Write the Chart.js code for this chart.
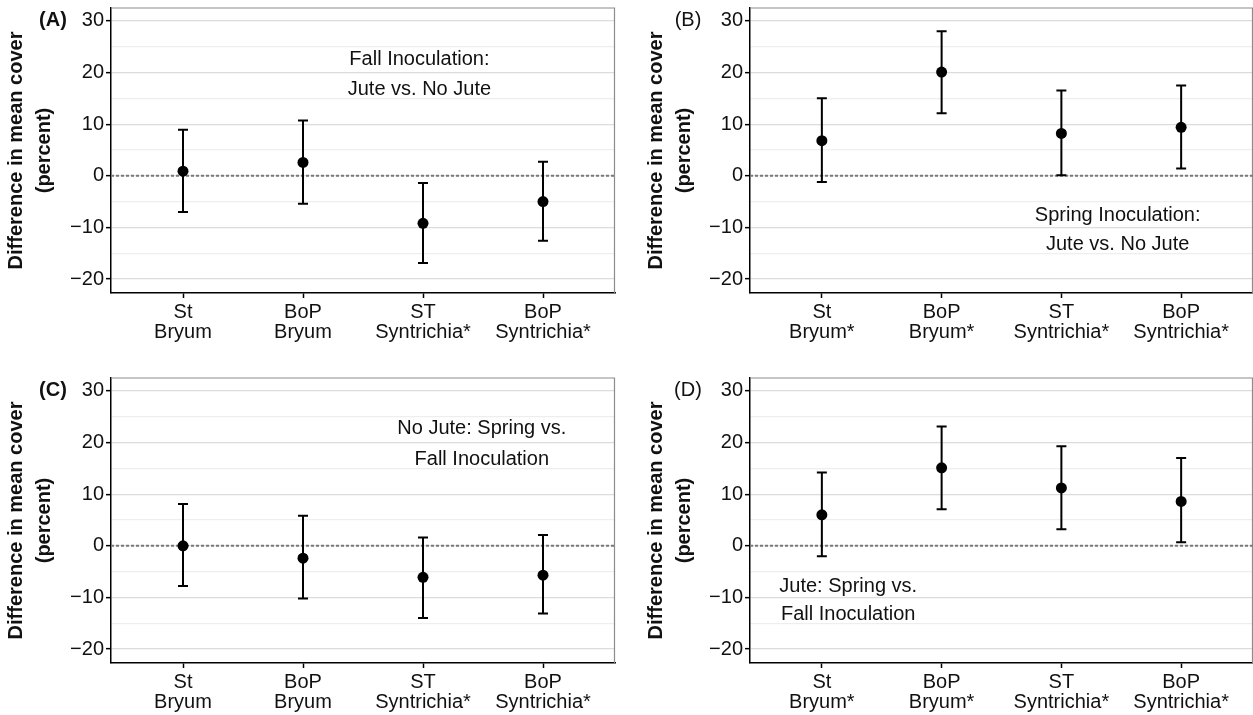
<!DOCTYPE html>
<html>
<head>
<meta charset="utf-8">
<script src="https://cdn.jsdelivr.net/npm/chart.js@4/dist/chart.umd.min.js"></script>
<style>
html, body { margin: 0; padding: 0; background: #fff; }
#wrap { position: relative; width: 1253px; height: 715px; overflow: hidden; }
.panel { position: absolute; }
</style>
</head>
<body>
<div id="wrap">
  <div class="panel" style="left:0;top:0;width:640px;height:357px"><canvas id="chartA"></canvas></div>
  <div class="panel" style="left:640px;top:0;width:613px;height:357px"><canvas id="chartB"></canvas></div>
  <div class="panel" style="left:0;top:357px;width:640px;height:358px"><canvas id="chartC"></canvas></div>
  <div class="panel" style="left:640px;top:357px;width:613px;height:358px"><canvas id="chartD"></canvas></div>
</div>
<script>
// tick values on the y axis (labels only on multiples of 10)
var yTicks = [-20, -15, -10, -5, 0, 5, 10, 15, 20, 25, 30];

// categories
var labelsPlain = [['St', 'Bryum'], ['BoP', 'Bryum'], ['ST', 'Syntrichia*'], ['BoP', 'Syntrichia*']];
var labelsStar = [['St', 'Bryum*'], ['BoP', 'Bryum*'], ['ST', 'Syntrichia*'], ['BoP', 'Syntrichia*']];

// (A) Fall inoculation: jute vs. no jute
var meanA = [0.9, 2.6, -9.2, -5.0];
var lowA = [-7.0, -5.4, -16.9, -12.6];
var highA = [8.9, 10.7, -1.4, 2.7];

// (B) Spring inoculation: jute vs. no jute
var meanB = [6.8, 20.1, 8.2, 9.4];
var lowB = [-1.2, 12.1, 0.1, 1.4];
var highB = [15.0, 28.0, 16.5, 17.5];

// (C) No jute: spring vs. fall inoculation
var meanC = [0.0, -2.4, -6.1, -5.7];
var lowC = [-7.8, -10.2, -14.0, -13.1];
var highC = [8.1, 5.8, 1.6, 2.1];

// (D) Jute: spring vs. fall inoculation
var meanD = [6.0, 15.1, 11.2, 8.6];
var lowD = [-2.0, 7.1, 3.2, 0.7];
var highD = [14.2, 23.1, 19.3, 17.0];

var FONT = '"Liberation Sans", Arial, Helvetica, sans-serif';
Chart.defaults.font.family = FONT;
Chart.defaults.color = '#111';

var panelPlugin = {
  id: 'panelPlugin',
  beforeDatasetsDraw: function (chart) {
    var a = chart.chartArea, ctx = chart.ctx;
    ctx.save();
    ctx.strokeStyle = '#8c8c8c';
    ctx.lineWidth = 1.2;
    ctx.beginPath();
    ctx.moveTo(a.left, a.top);
    ctx.lineTo(a.right - 0.5, a.top);
    ctx.lineTo(a.right - 0.5, a.bottom);
    ctx.stroke();
    ctx.restore();
  },
  afterDatasetsDraw: function (chart) {
    var o = chart.options.plugins.panelPlugin;
    var xs = chart.scales.x, ys = chart.scales.y, ctx = chart.ctx;
    ctx.save();
    ctx.strokeStyle = '#000';
    ctx.lineWidth = 2;
    for (var i = 0; i < o.low.length; i++) {
      var x = xs.getPixelForValue(i);
      var y1 = ys.getPixelForValue(o.low[i]);
      var y2 = ys.getPixelForValue(o.high[i]);
      ctx.beginPath();
      ctx.moveTo(x, y1); ctx.lineTo(x, y2);
      ctx.moveTo(x - 5, y1); ctx.lineTo(x + 5, y1);
      ctx.moveTo(x - 5, y2); ctx.lineTo(x + 5, y2);
      ctx.stroke();
    }
    ctx.restore();
  },
  afterDraw: function (chart) {
    var o = chart.options.plugins.panelPlugin;
    var xs = chart.scales.x, ys = chart.scales.y, ctx = chart.ctx;
    ctx.save();
    ctx.fillStyle = '#111';
    ctx.textAlign = 'center';
    ctx.textBaseline = 'middle';
    ctx.font = '20px ' + FONT;
    for (var i = 0; i < o.note.length; i++) {
      ctx.fillText(o.note[i], xs.getPixelForValue(o.noteX), ys.getPixelForValue(o.noteY[i]));
    }
    ctx.font = (o.tagBold ? 'bold ' : '') + '20px ' + FONT;
    ctx.fillText(o.tag, chart.chartArea.left - o.tagDx, ys.getPixelForValue(30));
    ctx.restore();
  }
};

function makePanel(id, labels, mean, low, high, cfg) {
  var pts = mean.map(function (m, i) { return { x: i, y: m }; });
  return new Chart(document.getElementById(id), {
    type: 'scatter',
    data: {
      datasets: [
        { data: pts, pointRadius: 5.5, pointHoverRadius: 5.5, backgroundColor: '#000', borderColor: '#000', borderWidth: 0 },
        { type: 'line', data: [{ x: -0.6, y: 0 }, { x: 3.6, y: 0 }], borderColor: '#7a7a7a', borderWidth: 2,
          borderDash: [3, 2], pointRadius: 0, fill: false }
      ]
    },
    options: {
      responsive: true,
      maintainAspectRatio: false,
      animation: false,
      events: [],
      layout: { padding: cfg.pad, autoPadding: false },
      plugins: {
        legend: { display: false },
        tooltip: { enabled: false },
        panelPlugin: { low: low, high: high, note: cfg.note, noteX: cfg.noteX, noteY: cfg.noteY, tag: cfg.tag, tagBold: cfg.tagBold, tagDx: cfg.tagDx }
      },
      scales: {
        x: {
          type: 'linear', min: -0.6, max: 3.6,
          afterBuildTicks: function (s) { s.ticks = [0, 1, 2, 3].map(function (v) { return { value: v }; }); },
          afterFit: function (s) { s.height = cfg.xh; s.paddingLeft = 0; s.paddingRight = 0; },
          ticks: {
            callback: function (v) { return labels[v]; },
            font: { size: 20, lineHeight: 1.02 }, color: '#111', padding: 4, maxRotation: 0, autoSkip: false
          },
          grid: { drawOnChartArea: false, tickLength: 5, tickColor: '#000', tickWidth: 1.5 },
          border: { color: '#000', width: 1.5 }
        },
        y: {
          min: -22.7, max: 32.5,
          afterBuildTicks: function (s) { s.ticks = yTicks.map(function (v) { return { value: v }; }); },
          afterFit: function (s) { s.width = cfg.yw; s.paddingTop = 0; s.paddingBottom = 0; },
          ticks: {
            callback: function (v) { return v % 10 === 0 ? (v < 0 ? '\u2212' + Math.abs(v) : String(v)) : ''; },
            font: { size: 20 }, color: '#111', padding: 2
          },
          grid: {
            color: function (c) { return c.tick && c.tick.value % 10 === 0 ? '#dcdcdc' : '#eeeeee'; },
            tickColor: function (c) { return c.tick && c.tick.value % 10 === 0 ? '#000' : 'rgba(0,0,0,0)'; },
            lineWidth: 1.3, tickLength: 5, tickWidth: 1.5
          },
          border: { color: '#000', width: 1.5 },
          title: {
            display: true, text: ['Difference in mean cover', '(percent)'],
            font: { size: 20, weight: 'bold', lineHeight: 1.42 }, color: '#111', padding: { top: 2, bottom: 0 }
          }
        }
      }
    },
    plugins: [panelPlugin]
  });
}

makePanel('chartA', labelsPlain, meanA, lowA, highA, {
  pad: { left: 0, top: 8, right: 25, bottom: 0 }, yw: 111, xh: 64,
  note: ['Fall Inoculation:', 'Jute vs. No Jute'], noteX: 1.97, noteY: [22.5, 16.7], tag: '(A)', tagBold: true, tagDx: 58
});
makePanel('chartB', labelsStar, meanB, lowB, highB, {
  pad: { left: 0, top: 8, right: 0, bottom: 0 }, yw: 110, xh: 64,
  note: ['Spring Inoculation:', 'Jute vs. No Jute'], noteX: 2.47, noteY: [-7.6, -13.4], tag: '(B)', tagBold: false, tagDx: 62
});
makePanel('chartC', labelsPlain, meanC, lowC, highC, {
  pad: { left: 0, top: 21, right: 25, bottom: 0 }, yw: 111, xh: 52,
  note: ['No Jute: Spring vs.', 'Fall Inoculation'], noteX: 2.49, noteY: [22.7, 16.8], tag: '(C)', tagBold: true, tagDx: 58
});
makePanel('chartD', labelsStar, meanD, lowD, highD, {
  pad: { left: 0, top: 21, right: 0, bottom: 0 }, yw: 110, xh: 52,
  note: ['Jute: Spring vs.', 'Fall Inoculation'], noteX: 0.22, noteY: [-7.8, -13.3], tag: '(D)', tagBold: false, tagDx: 62
});
</script>
</body>
</html>
